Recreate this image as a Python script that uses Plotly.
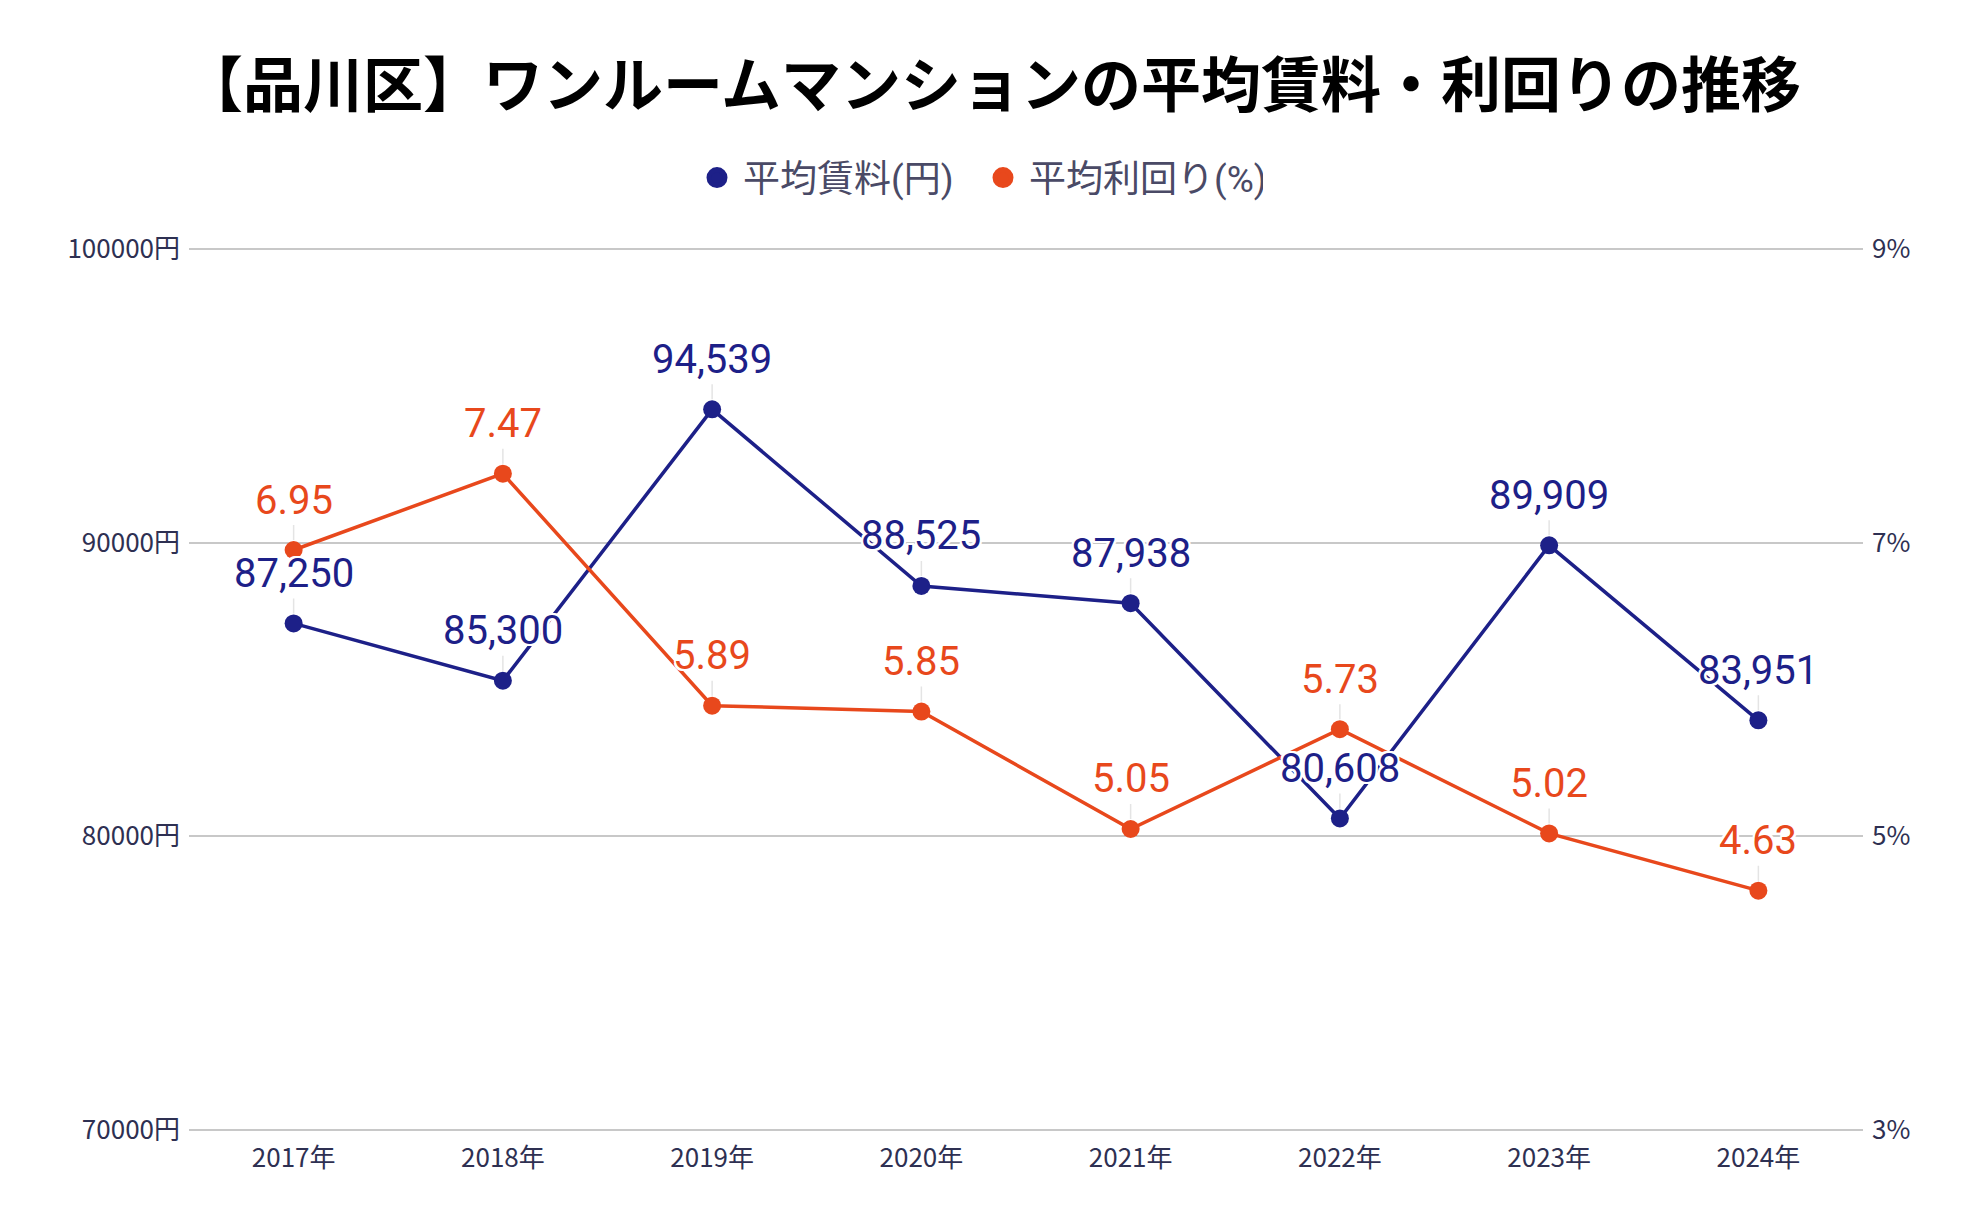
import plotly.graph_objects as go

years = ["2017年", "2018年", "2019年", "2020年", "2021年", "2022年", "2023年", "2024年"]
rent = [87250, 85300, 94539, 88525, 87938, 80608, 89909, 83951]
yield_pct = [6.95, 7.47, 5.89, 5.85, 5.05, 5.73, 5.02, 4.63]

rent_ticks = [70000, 80000, 90000, 100000]
yield_ticks = [3, 5, 7, 9]

title_text = "【品川区】ワンルームマンションの平均賃料・利回りの推移"
rent_name = "平均賃料(円)"
yield_name = "平均利回り(%)"

NAVY = "#1d2088"
ORANGE = "#e8481c"
TICK = "#2e3052"
HALO = ",".join(f"{dx}px {dy}px 0 #ffffff" for dx in (-2, 0, 2) for dy in (-2, 0, 2) if dx or dy)

# small padding so the outermost grid lines are drawn
pad_frac = 2 / 881
r_span = rent_ticks[-1] - rent_ticks[0]
y_span = yield_ticks[-1] - yield_ticks[0]

fig = go.Figure()
fig.add_trace(go.Scatter(
    x=years, y=rent, name=rent_name, mode="lines+markers",
    line=dict(color=NAVY, width=3.5), marker=dict(color=NAVY, size=18),
    yaxis="y", showlegend=False,
))
fig.add_trace(go.Scatter(
    x=years, y=yield_pct, name=yield_name, mode="lines+markers",
    line=dict(color=ORANGE, width=3.5), marker=dict(color=ORANGE, size=18),
    yaxis="y2", showlegend=False,
))
# legend entries (dot only)
fig.add_trace(go.Scatter(x=[None], y=[None], name=rent_name, mode="markers",
                         marker=dict(color=NAVY, size=22, line=dict(color=NAVY, width=5)),
                         yaxis="y"))
fig.add_trace(go.Scatter(x=[None], y=[None], name=yield_name, mode="markers",
                         marker=dict(color=ORANGE, size=22, line=dict(color=ORANGE, width=5)),
                         yaxis="y2"))

annotations = []
for xv, yv in zip(years, rent):
    annotations.append(dict(
        x=xv, y=yv, xref="x", yref="y", text=f"{yv:,}",
        showarrow=True, ax=0, ay=-50, arrowhead=0, arrowwidth=1.5,
        arrowcolor="#e4e4e4", standoff=10,
        font=dict(family="Roboto", size=40, color=NAVY, shadow=HALO),
    ))
for xv, yv in zip(years, yield_pct):
    annotations.append(dict(
        x=xv, y=yv, xref="x", yref="y2", text=f"{yv:.2f}",
        showarrow=True, ax=0, ay=-50, arrowhead=0, arrowwidth=1.5,
        arrowcolor="#e4e4e4", standoff=10,
        font=dict(family="Roboto", size=40, color=ORANGE, shadow=HALO),
    ))

fig.update_layout(
    width=1984, height=1228,
    paper_bgcolor="white", plot_bgcolor="white",
    margin=dict(l=189, r=121, t=247, b=96),
    title=dict(
        text=f"<b>{title_text}</b>", x=0.5, xref="container", xanchor="center",
        y=1 - 86 / 1228, yref="container", yanchor="middle",
        font=dict(family="Noto Sans CJK JP", size=60, color="#000000", weight=900),
    ),
    legend=dict(
        orientation="h", x=0.5 - 15 / 1984, xref="container", xanchor="center",
        y=1 - 178 / 1228, yref="container", yanchor="middle",
        font=dict(family="Roboto, Noto Sans CJK JP", size=37, color="#4a4a66"),
        itemsizing="trace", itemwidth=42, tracegroupgap=0,
        entrywidth=229, entrywidthmode="pixels",
    ),
    showlegend=True,
    annotations=annotations,
    xaxis=dict(
        type="category", range=[-0.5, len(years) - 0.5],
        showgrid=False, showline=False, zeroline=False,
        tickfont=dict(family="Noto Sans CJK JP", size=26, color=TICK),
        ticks="", ticklabelstandoff=8,
    ),
    yaxis=dict(
        range=[rent_ticks[0] - r_span * pad_frac, rent_ticks[-1] + r_span * pad_frac],
        tickmode="array", tickvals=rent_ticks,
        ticktext=[f"{v}円" for v in rent_ticks],
        showgrid=True, gridcolor="#c8c8c8", gridwidth=1.5, zeroline=False,
        tickfont=dict(family="Noto Sans CJK JP", size=26, color=TICK),
        ticks="", ticklabelstandoff=8,
    ),
    yaxis2=dict(
        range=[yield_ticks[0] - y_span * pad_frac, yield_ticks[-1] + y_span * pad_frac],
        tickmode="array", tickvals=yield_ticks,
        ticktext=[f"{v}%" for v in yield_ticks],
        overlaying="y", side="right",
        showgrid=False, zeroline=False,
        tickfont=dict(family="Noto Sans CJK JP", size=26, color=TICK),
        ticks="", ticklabelstandoff=8,
    ),
)

fig.write_html("out.html")
